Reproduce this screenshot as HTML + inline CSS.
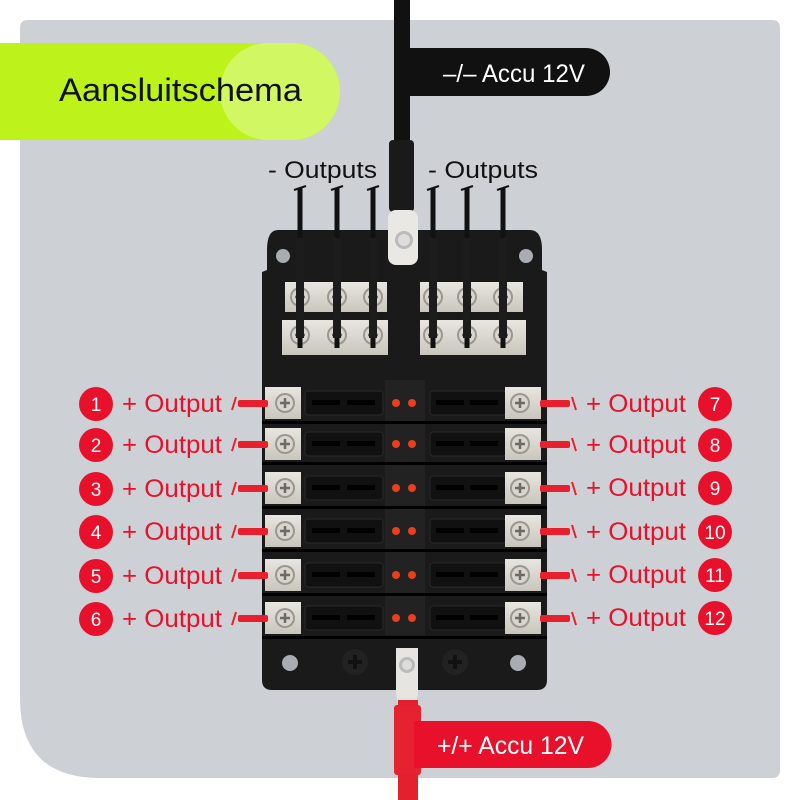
<!DOCTYPE html>
<html><head><meta charset="utf-8"><style>
html,body{margin:0;padding:0;background:#fff}
svg{display:block}
text{font-family:"Liberation Sans",sans-serif}
</style></head><body>
<svg width="800" height="800" viewBox="0 0 800 800" xmlns="http://www.w3.org/2000/svg">
<defs>
<linearGradient id="sil" x1="0" x2="0" y1="0" y2="1"><stop offset="0" stop-color="#e8e6e0"/><stop offset="1" stop-color="#c9c6bd"/></linearGradient>
<g id="screw"><circle r="10" fill="#9a9790"/><circle r="8" fill="#d8d5cc"/><path d="M-5 0H5M0 -5V5" stroke="#6d6a64" stroke-width="2.5"/></g>
<g id="lrow">
 <rect x="265" y="-16" width="36" height="32" fill="url(#sil)"/>
 <use href="#screw" x="285" y="0"/>
 <rect x="305" y="-12" width="78" height="24" rx="3" fill="#111" stroke="#2a2a2a"/>
 <rect x="312" y="-3" width="28" height="5" fill="#000"/><rect x="347" y="-3" width="28" height="5" fill="#000"/>
 <rect x="430" y="-12" width="76" height="24" rx="3" fill="#111" stroke="#2a2a2a"/>
 <rect x="436" y="-3" width="28" height="5" fill="#000"/><rect x="470" y="-3" width="28" height="5" fill="#000"/>
 <rect x="505" y="-16" width="36" height="32" fill="url(#sil)"/>
 <use href="#screw" x="520" y="0"/>
 <circle cx="396" cy="0" r="4" fill="#e8401c"/><circle cx="412" cy="0" r="4" fill="#e8401c"/>
 <rect x="262" y="18" width="285" height="3" fill="#000"/>
 <rect x="238" y="-3" width="30" height="7" rx="2" fill="#e8202e"/>
 <path d="M236 -6 L232 7" stroke="#e8202e" stroke-width="2"/>
 <rect x="540" y="-3" width="30" height="7" rx="2" fill="#e8202e"/>
 <path d="M572 -6 L576 7" stroke="#e8202e" stroke-width="2"/>
</g>
<g id="wire">
 <rect x="-2.5" y="0" width="5" height="160" fill="#111"/>
 <rect x="-4" y="50" width="8" height="100" fill="#1c1c1c"/>
 <path d="M-6 2 L6 -2" stroke="#111" stroke-width="2"/>
</g>
</defs>
<rect width="800" height="800" fill="#fff"/>
<path d="M28 20 H772 Q780 20 780 28 V770 Q780 778 772 778 H100 Q20 778 20 698 V28 Q20 20 28 20Z" fill="#cdd1d6"/>
<path d="M0 43 H292 A48 48.5 0 0 1 292 140 H0Z" fill="#bdf31b"/>
<path d="M268 43 H292 A48 48.5 0 0 1 292 140 H268 A48 48.5 0 0 1 268 43Z" fill="#d3f76a" opacity="0.9"/>
<text x="59" y="101" font-size="32" fill="#111" textLength="243" lengthAdjust="spacingAndGlyphs">Aansluitschema</text>
<path d="M395 48 H586 A24 24 0 0 1 586 96 H395Z" fill="#111"/>
<text x="443" y="82" font-size="25" fill="#fff" textLength="142" lengthAdjust="spacingAndGlyphs">–/– Accu 12V</text>
<path d="M278 230 H530 Q542 230 542 250 V270 L547 272 V680 Q547 690 537 690 H272 Q262 690 262 680 V272 L267 270 V250 Q267 230 278 230Z" fill="#1a1a1a"/>
<circle cx="283" cy="256" r="7" fill="#cdd1d6" opacity=".8"/><circle cx="526" cy="256" r="7" fill="#cdd1d6" opacity=".8"/>
<circle cx="290" cy="663" r="8" fill="#cdd1d6" opacity=".8"/><circle cx="518" cy="663" r="8" fill="#cdd1d6" opacity=".8"/>
<circle cx="355" cy="662" r="13" fill="#222"/><path d="M348 662H362M355 655V669" stroke="#111" stroke-width="4"/>
<circle cx="455" cy="662" r="13" fill="#222"/><path d="M448 662H462M455 655V669" stroke="#111" stroke-width="4"/>
<rect x="285" y="282" width="102" height="30" fill="url(#sil)"/><rect x="420" y="282" width="103" height="30" fill="url(#sil)"/>
<rect x="282" y="320" width="106" height="35" fill="url(#sil)"/><rect x="420" y="320" width="106" height="35" fill="url(#sil)"/>
<use href="#screw" x="300" y="297"/><use href="#screw" x="337" y="297"/><use href="#screw" x="373" y="297"/>
<use href="#screw" x="433" y="297"/><use href="#screw" x="467" y="297"/><use href="#screw" x="503" y="297"/>
<use href="#screw" x="300" y="335"/><use href="#screw" x="337" y="335"/><use href="#screw" x="373" y="335"/>
<use href="#screw" x="433" y="335"/><use href="#screw" x="467" y="335"/><use href="#screw" x="503" y="335"/>
<rect x="385" y="380" width="40" height="255" fill="#222"/>
<use href="#wire" x="300" y="188"/><use href="#wire" x="337" y="188"/><use href="#wire" x="373" y="188"/>
<use href="#wire" x="433" y="188"/><use href="#wire" x="467" y="188"/><use href="#wire" x="503" y="188"/>
<text x="268" y="178" font-size="24" fill="#111" textLength="109" lengthAdjust="spacingAndGlyphs">- Outputs</text>
<text x="428" y="178" font-size="24" fill="#111" textLength="110" lengthAdjust="spacingAndGlyphs">- Outputs</text>
<rect x="394" y="0" width="16" height="160" fill="#111"/>
<rect x="389" y="140" width="25" height="72" rx="4" fill="#1a1a1a"/>
<rect x="388" y="210" width="30" height="55" rx="8" fill="#e9e8e4"/>
<circle cx="404" cy="240" r="9" fill="#bbb"/><circle cx="404" cy="240" r="6" fill="#ddd"/>
<use href="#lrow" y="403"/><use href="#lrow" y="444"/><use href="#lrow" y="488"/>
<use href="#lrow" y="531"/><use href="#lrow" y="575"/><use href="#lrow" y="618"/>
<g fill="#e8102a" font-size="25">
<circle cx="96" cy="404" r="17"/><circle cx="96" cy="445" r="17"/><circle cx="96" cy="489" r="17"/>
<circle cx="96" cy="532" r="17"/><circle cx="96" cy="576" r="17"/><circle cx="96" cy="619" r="17"/>
<circle cx="715" cy="404" r="17"/><circle cx="715" cy="445" r="17"/><circle cx="715" cy="488" r="17"/>
<circle cx="715" cy="532" r="17"/><circle cx="715" cy="575" r="17"/><circle cx="715" cy="618" r="17"/>
<text x="122" y="412" textLength="100" lengthAdjust="spacingAndGlyphs">+ Output</text><text x="122" y="453" textLength="100" lengthAdjust="spacingAndGlyphs">+ Output</text><text x="122" y="497" textLength="100" lengthAdjust="spacingAndGlyphs">+ Output</text>
<text x="122" y="540" textLength="100" lengthAdjust="spacingAndGlyphs">+ Output</text><text x="122" y="584" textLength="100" lengthAdjust="spacingAndGlyphs">+ Output</text><text x="122" y="627" textLength="100" lengthAdjust="spacingAndGlyphs">+ Output</text>
<text x="586" y="412" textLength="100" lengthAdjust="spacingAndGlyphs">+ Output</text><text x="586" y="453" textLength="100" lengthAdjust="spacingAndGlyphs">+ Output</text><text x="586" y="496" textLength="100" lengthAdjust="spacingAndGlyphs">+ Output</text>
<text x="586" y="540" textLength="100" lengthAdjust="spacingAndGlyphs">+ Output</text><text x="586" y="583" textLength="100" lengthAdjust="spacingAndGlyphs">+ Output</text><text x="586" y="626" textLength="100" lengthAdjust="spacingAndGlyphs">+ Output</text>
</g>
<g fill="#fff" font-size="19" text-anchor="middle">
<text x="96" y="411">1</text><text x="96" y="452">2</text><text x="96" y="496">3</text>
<text x="96" y="539">4</text><text x="96" y="583">5</text><text x="96" y="626">6</text>
<text x="715" y="411">7</text><text x="715" y="452">8</text><text x="715" y="495">9</text>
<text x="715" y="539">10</text><text x="715" y="582">11</text><text x="715" y="625">12</text>
</g>
<path d="M396 648 H418 V690 Q418 700 414 705 H400 Q396 700 396 690Z" fill="#e6e5e1"/>
<circle cx="407" cy="665" r="8" fill="#bbb"/><circle cx="407" cy="665" r="5" fill="#ddd"/>
<rect x="398" y="700" width="20" height="100" fill="#e5202e"/>
<rect x="394" y="705" width="27" height="70" rx="3" fill="#e62130"/>
<path d="M414 721 H588 A23.5 23.5 0 0 1 588 768 H414Z" fill="#e8102a"/>
<text x="437" y="754" font-size="25" fill="#fff" textLength="147" lengthAdjust="spacingAndGlyphs">+/+ Accu 12V</text>
</svg>
</body></html>
